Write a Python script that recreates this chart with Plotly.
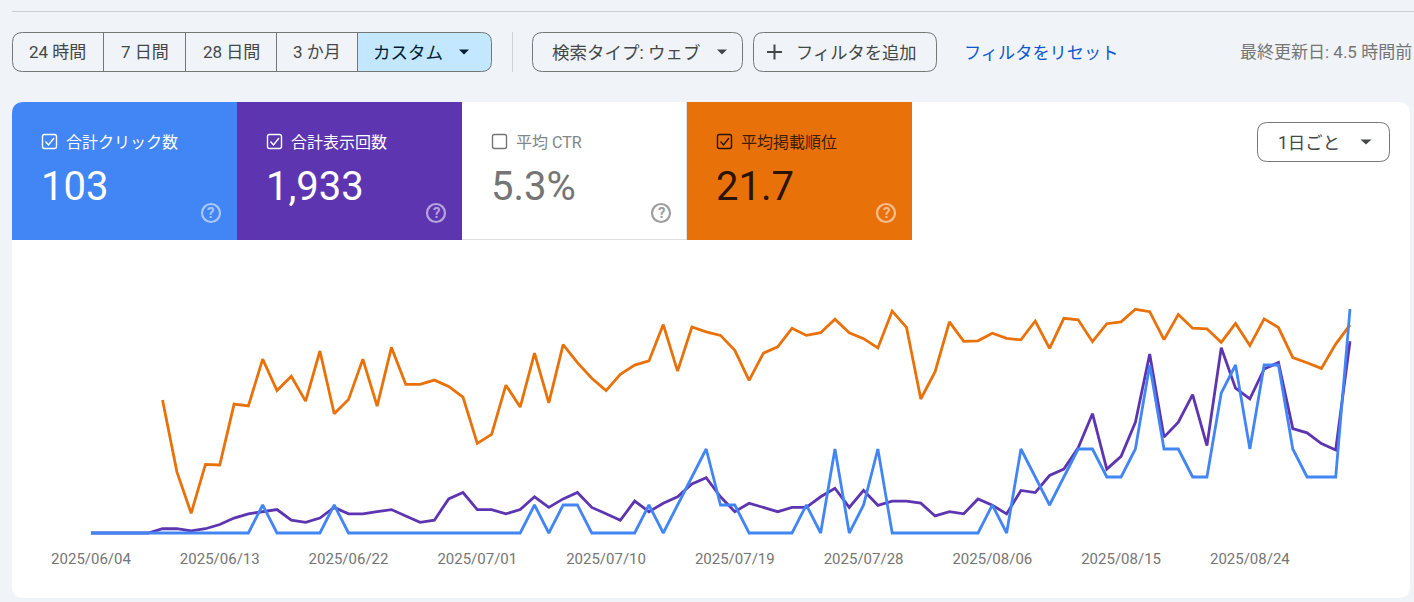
# -*- coding: utf-8 -*-
# Search Console performance view
import pandas as pd
import plotly.graph_objects as go

W, H = 1414, 602
FONT = "Roboto, 'Noto Sans CJK JP', sans-serif"

dates = pd.date_range("2025-06-04", "2025-08-31", freq="D")

tick_labels = ["2025/06/04", "2025/06/13", "2025/06/22", "2025/07/01", "2025/07/10", "2025/07/19",
               "2025/07/28", "2025/08/06", "2025/08/15", "2025/08/24"]

clicks = [0, 0, 0, 0, 0, 0, 0, 0, 0, 0, 0, 0, 1, 0, 0, 0, 0, 1, 0, 0,
          0, 0, 0, 0, 0, 0, 0, 0, 0, 0, 0, 1, 0, 1, 1, 0, 0, 0, 0, 1,
          0, 1, 2, 3, 1, 1, 0, 0, 0, 0, 1, 0, 3, 0, 1, 3, 0, 0, 0, 0,
          0, 0, 0, 1, 0, 3, 2, 1, 2, 3, 3, 2, 2, 3, 6, 3, 3, 2, 2, 5,
          6, 3, 6, 6, 3, 2, 2, 2, 8]

impressions = [0, 0, 0, 0, 0, 2, 2, 1, 2, 4, 7, 9, 10, 11, 6, 5, 7, 12, 9, 9,
               10, 11, 8, 5, 6, 16, 19, 11, 11, 9, 11, 17, 12, 16, 19, 12, 9, 6, 15, 10,
               14, 17, 23, 26, 17, 10, 14, 12, 10, 12, 12, 17, 21, 12, 20, 13, 15, 15, 14, 8,
               10, 9, 16, 13, 9, 20, 19, 27, 30, 40, 56, 30, 36, 52, 84, 45, 52, 65, 41, 87,
               68, 63, 77, 80, 49, 47, 42, 39, 90]

position = [None, None, None, None, None,
            43.3, 67.2, 81.1, 64.8, 65.0, 44.7, 45.3, 29.7, 40.2, 35.4, 43.7, 27.0, 47.9, 43.2, 29.7,
            45.4, 25.8, 38.1, 38.1, 36.7, 38.8, 42.4, 57.8, 54.8, 38.4, 45.7, 27.7, 44.3, 24.9, 30.9,
            36.1, 40.2, 34.8, 31.7, 30.3, 18.2, 33.7, 19.0, 20.6, 21.8, 26.8, 36.8, 27.7, 25.6, 19.4,
            21.8, 20.9, 16.4, 20.9, 22.9, 26.0, 13.7, 19.1, 43.0, 33.9, 17.3, 23.8, 23.6, 21.1, 22.8,
            23.3, 17.0, 26.1, 16.1, 16.6, 23.9, 17.9, 17.3, 13.1, 13.9, 23.2, 14.8, 19.4, 19.6, 24.1,
            17.8, 25.2, 16.3, 19.2, 29.2, 30.9, 32.8, 24.7, 18.3]

range_buttons = ["24 時間", "7 日間", "28 日間", "3 か月"]
kpi_names = ["合計クリック数", "合計表示回数", "平均 CTR", "平均掲載順位"]
kpi_values = ["103", "1,933", "5.3%", "21.7"]

BLUE, PURPLE, ORANGE = "#4285f4", "#5e35b1", "#e8710a"
BG = "#f0f4f9"
BORDER = "#747775"


def fx(x):
    return x / W


def fy(y):
    return 1 - y / H


def round_rect(x0, y0, x1, y1, r, corners=(True, True, True, True)):
    tl, tr, br, bl = [r if c else 0 for c in corners]
    p = f"M {fx(x0 + tl)} {fy(y0)} L {fx(x1 - tr)} {fy(y0)} "
    p += f"Q {fx(x1)} {fy(y0)} {fx(x1)} {fy(y0 + tr)} L {fx(x1)} {fy(y1 - br)} "
    p += f"Q {fx(x1)} {fy(y1)} {fx(x1 - br)} {fy(y1)} L {fx(x0 + bl)} {fy(y1)} "
    p += f"Q {fx(x0)} {fy(y1)} {fx(x0)} {fy(y1 - bl)} L {fx(x0)} {fy(y0 + tl)} "
    p += f"Q {fx(x0)} {fy(y0)} {fx(x0 + tl)} {fy(y0)} Z"
    return p


shapes = []
annotations = []


def add_path(path, fill=None, line=None, width=1):
    shapes.append(dict(type="path", path=path, xref="paper", yref="paper", layer="below",
                       fillcolor=fill or "rgba(0,0,0,0)",
                       line=dict(color=line or "rgba(0,0,0,0)", width=width if line else 0)))


def add_line(x0, y0, x1, y1, color, width=1):
    shapes.append(dict(type="line", xref="paper", yref="paper", layer="below",
                       x0=fx(x0), y0=fy(y0), x1=fx(x1), y1=fy(y1),
                       line=dict(color=color, width=width)))


def add_text(x, y, text, size, color, anchor="center", weight="normal"):
    annotations.append(dict(x=fx(x), y=fy(y), xref="paper", yref="paper", text=text, showarrow=False,
                            xanchor=anchor, yanchor="middle", align=anchor,
                            font=dict(family=FONT, size=size, color=color, weight=weight),
                            borderpad=0, borderwidth=0))


def add_triangle(x, y, half, tall, color):
    add_path(f"M {fx(x - half)} {fy(y - tall / 2)} L {fx(x + half)} {fy(y - tall / 2)} "
             f"L {fx(x)} {fy(y + tall / 2)} Z", fill=color)


# header
add_line(12, 11.5, W, 11.5, "#c9ced3")

add_path(round_rect(357, 32.5, 491.5, 71.5, 10, (False, True, True, False)), fill="#c2e7ff")
add_path(round_rect(12.5, 32.5, 491.5, 71.5, 10), line=BORDER)
for x in [103.5, 185.5, 276.5, 357.5]:
    add_line(x, 32.5, x, 71.5, BORDER)
for x, label in zip([57.5, 144.5, 231, 317], range_buttons):
    add_text(x, 52, label, 17, "#444746")
add_text(408, 53, "カスタム", 17.5, "#001d35")
add_triangle(464, 52, 5, 5, "#001d35")

add_line(512.5, 32, 512.5, 72, "#cfd3d8")

add_path(round_rect(532.5, 32.5, 742.5, 71.5, 10), line=BORDER)
add_text(626, 53, "検索タイプ: ウェブ", 17.5, "#444746")
add_triangle(722, 52, 5, 5, "#444746")

add_path(round_rect(753.5, 32.5, 936.5, 71.5, 10), line=BORDER)
add_line(767, 52, 782, 52, "#444746", 2)
add_line(774.5, 44.5, 774.5, 59.5, "#444746", 2)
add_text(856.5, 53, "フィルタを追加", 17.3, "#444746")

add_text(1040.5, 53, "フィルタをリセット", 17.2, "#0b57d0")
add_text(1240, 52, "最終更新日: 4.5 時間前", 17, "#757575", "left")

# card and kpi tabs
add_path(round_rect(12, 102, 1410, 598, 12), fill="#ffffff")
add_path(round_rect(12, 102, 237, 240, 12, (True, False, False, False)), fill=BLUE)
add_path(round_rect(237, 102, 462, 240, 0), fill=PURPLE)
add_path(round_rect(687, 102, 912, 240, 0), fill=ORANGE)
add_line(462, 239.5, 687, 239.5, "#e0e0e0")
add_line(686.5, 102, 686.5, 240, "#e0e0e0")

tab_x = [42, 267, 492, 717]
tab_ink = ["#ffffff", "#ffffff", "#757575", "#2a1400"]
tab_label = ["#ffffff", "#ffffff", "#80868b", "#3c1e05"]
help_ink = ["rgba(255,255,255,0.55)", "rgba(255,255,255,0.55)", "#9e9e9e", "rgba(255,255,255,0.55)"]
for i in range(4):
    x = tab_x[i]
    add_path(round_rect(x + 0.5, 134.5, x + 14.5, 148.5, 2), line=tab_ink[i], width=1.4)
    if i != 2:
        add_path(f"M {fx(x + 3.5)} {fy(141.5)} L {fx(x + 6.5)} {fy(145)} L {fx(x + 12)} {fy(138)}",
                 line=tab_ink[i], width=1.4)
    add_text(x + 24, 142, kpi_names[i], 16, tab_label[i], "left")
    add_text(x - 1, 186, kpi_values[i], 40, tab_ink[i], "left")
    shapes.append(dict(type="circle", xref="paper", yref="paper", layer="below",
                       x0=fx(x + 160), y0=fy(204), x1=fx(x + 178), y1=fy(222),
                       line=dict(color=help_ink[i], width=2.2)))
    add_text(x + 169, 213, "?", 15, help_ink[i], weight=700)

# interval dropdown
add_path(round_rect(1257.5, 122.5, 1389.5, 161.5, 10), line=BORDER)
add_text(1309, 143, "1日ごと", 17.5, "#444746")
add_triangle(1366, 142, 5.5, 5, "#444746")

fig = go.Figure()
fig.add_trace(go.Scatter(x=dates, y=position, mode="lines", name="平均掲載順位", yaxis="y",
                         line=dict(color=ORANGE, width=2.8), connectgaps=False))
fig.add_trace(go.Scatter(x=dates, y=impressions, mode="lines", name="合計表示回数", yaxis="y3",
                         line=dict(color=PURPLE, width=2.8)))
fig.add_trace(go.Scatter(x=dates, y=clicks, mode="lines", name="合計クリック数", yaxis="y4",
                         line=dict(color=BLUE, width=2.8)))

day_px = (1350 - 91) / 88
plot_top, plot_bottom = 300, 540
domain_y = [1 - plot_bottom / H, 1 - plot_top / H]


def hidden_y(lo, hi, **kw):
    return dict(domain=domain_y, range=[lo, hi], visible=False, fixedrange=True, **kw)


fig.update_layout(
    width=W, height=H,
    margin=dict(l=0, r=0, t=0, b=0, autoexpand=False),
    paper_bgcolor=BG, plot_bgcolor="rgba(0,0,0,0)",
    showlegend=False,
    font=dict(family=FONT),
    shapes=shapes,
    annotations=annotations,
    xaxis=dict(domain=[(91 - day_px) / W, (1350 + day_px) / W],
               range=["2025-06-03", "2025-09-01"],
               tickmode="array", tickvals=list(dates[::9]), ticktext=tick_labels,
               showgrid=False, zeroline=False, showline=False, ticks="",
               ticklabelstandoff=8, tickangle=0, automargin=False,
               tickfont=dict(family=FONT, size=15, color="#757575")),
    yaxis=hidden_y(90, 10),
    yaxis3=hidden_y(-7 / 2.13, 233 / 2.13, overlaying="y", anchor="x"),
    yaxis4=hidden_y(-7 / 28, 233 / 28, overlaying="y", anchor="x"),
)

fig.write_html("out.html", config={"displayModeBar": False},
               post_script="document.body.style.margin='0';document.body.style.overflow='hidden';")
